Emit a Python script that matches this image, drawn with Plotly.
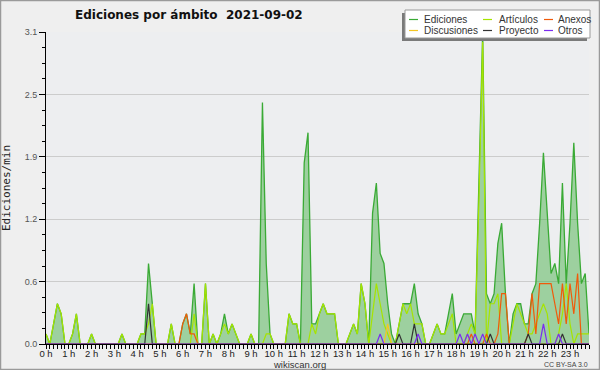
import plotly.graph_objects as go

# ---- data: 10-minute buckets, edits per minute ----
slots = list(range(144))  # 0 .. 143 (10-minute steps)

ediciones = [
    0.1, 0, 0.2, 0.4, 0.3, 0, 0, 0.1, 0.3, 0, 0, 0,
    0.1, 0, 0, 0, 0, 0, 0, 0, 0.1, 0, 0, 0,
    0, 0.1, 0.1, 0.8, 0.4, 0, 0, 0, 0, 0.2, 0, 0,
    0.2, 0.3, 0.1, 0.6, 0, 0, 0.6, 0, 0.1, 0, 0.1, 0.3,
    0.1, 0.2, 0.1, 0, 0, 0, 0.1, 0, 0, 2.4, 0.8, 0.1,
    0, 0, 0, 0, 0.3, 0.2, 0.2, 0, 1.8, 2.1, 0.2, 0.2,
    0.3, 0.4, 0.3, 0.3, 0.3, 0, 0, 0, 0.1, 0.2, 0.1, 0.6,
    0.4, 0, 1.3, 1.6, 0.9, 0.8, 0.4, 0.1, 0, 0.2, 0.4, 0.4,
    0.4, 0.6, 0.3, 0.2, 0, 0, 0.1, 0.2, 0.1, 0.1, 0.3, 0.5,
    0.1, 0.2, 0.3, 0.3, 0.3, 0.1, 1.6, 3.1, 0.5, 0.4, 0.5, 1.0,
    1.2, 0.5, 0, 0.3, 0.4, 0.4, 0.2, 0.2, 0.5, 0.6, 1.2, 1.9,
    1.3, 0.7, 0.8, 0.6, 1.6, 0.6, 1.2, 2.0, 1.2, 0.6, 0.7, 0.1,
]
articulos = [
    0.1, 0, 0.2, 0.4, 0.3, 0, 0, 0.1, 0.3, 0, 0, 0,
    0.1, 0, 0, 0, 0, 0, 0, 0, 0.1, 0, 0, 0,
    0, 0.1, 0.1, 0.2, 0.4, 0, 0, 0, 0, 0.2, 0, 0,
    0, 0, 0, 0.3, 0, 0, 0.6, 0, 0.1, 0, 0.1, 0.2,
    0.1, 0.2, 0.1, 0, 0, 0, 0.1, 0, 0, 0, 0.1, 0.1,
    0, 0, 0, 0, 0.3, 0.2, 0.2, 0, 0, 0, 0.2, 0.1,
    0.3, 0.4, 0.3, 0.3, 0.3, 0, 0, 0, 0.1, 0.2, 0.1, 0.6,
    0.4, 0, 0.3, 0.6, 0.4, 0.2, 0.1, 0, 0, 0.2, 0.4, 0.3,
    0.4, 0.2, 0.2, 0.2, 0, 0, 0.1, 0.2, 0.1, 0.1, 0.2, 0.3,
    0, 0, 0, 0.1, 0.2, 0.1, 1.4, 3.0, 0, 0.4, 0.4, 0.5,
    0, 0, 0, 0.2, 0.4, 0.3, 0.2, 0.1, 0.1, 0.2, 0.3, 0.4,
    0.3, 0, 0, 0.1, 0.3, 0.6, 0.2, 0, 0.1, 0.1, 0.1, 0.1,
]
anexos = [0] * 144
for k, v in {36: 0.2, 37: 0.3, 38: 0.1, 39: 0.1, 112: 0.1, 116: 0.1, 119: 0.1,
             120: 0.5, 121: 0.5, 127: 0.1, 128: 0.5, 129: 0.1, 130: 0.6, 131: 0.6,
             132: 0.6, 133: 0.6, 134: 0.4, 135: 0.2, 136: 0.6, 137: 0.2, 138: 0.6,
             139: 0.3, 140: 0.7}.items():
    anexos[k] = v
discusiones = [0] * 144
discusiones[90] = 0.2
proyecto = [0] * 144
for k, v in {27: 0.4, 93: 0.1, 97: 0.2, 117: 0.1, 127: 0.1, 136: 0.1}.items():
    proyecto[k] = v
otros = [0] * 144
for k, v in {88: 0.1, 98: 0.1, 109: 0.1, 111: 0.1, 113: 0.1, 115: 0.1, 131: 0.2, 135: 0.1}.items():
    otros[k] = v

hour_ticks = list(range(24))
hour_labels = [f"{h} h" for h in hour_ticks]
y_ticks = [0, 0.62, 1.24, 1.86, 2.48, 3.1]
y_labels = ["0.0", "0.6", "1.2", "1.9", "2.5", "3.1"]

series = [
    ("Ediciones", ediciones, "#3aaa35"),
    ("Artículos", articulos, "#a6e400"),
    ("Anexos", anexos, "#f05a0a"),
    ("Discusiones", discusiones, "#f5c623"),
    ("Proyecto", proyecto, "#333333"),
    ("Otros", otros, "#7b2cf0"),
]

x_hours = [s / 6 for s in slots]

# ---- geometry helpers (pixel -> paper) ----
W, H = 600, 370
L, R, T, B = 46, 589, 32, 344
def px(x):
    return (x - L) / (R - L)
def py(y):
    return (B - y) / (B - T)

FONT = "DejaVu Sans"
NARROW = "Liberation Sans"

fig = go.Figure()
for i, (name, vals, col) in enumerate(series):
    if i == 0:
        fig.add_trace(go.Scatter(x=x_hours, y=vals, mode="lines", name=name,
                                 line=dict(color=col, width=1.3),
                                 fill="tozeroy", fillcolor="rgba(60,170,60,0.45)",
                                 showlegend=False, hoverinfo="skip"))
    else:
        fig.add_trace(go.Scatter(x=x_hours, y=vals, mode="lines", name=name,
                                 line=dict(color=col, width=1.2),
                                 showlegend=False, hoverinfo="skip"))

fig.update_layout(
    width=W, height=H,
    margin=dict(l=L, r=W - R, t=T, b=H - B, pad=0, autoexpand=False),
    paper_bgcolor="#efefef",
    plot_bgcolor="#edeef0",
    font=dict(family=FONT, size=10, color="#333333"),
    showlegend=False,
)
fig.update_xaxes(
    range=[0, 143 / 6], showgrid=False, zeroline=False, automargin=False,
    showline=True, linecolor="black", linewidth=1,
    tickmode="array", tickvals=hour_ticks, ticktext=hour_labels, tickangle=0,
    ticks="outside", ticklen=4, tickcolor="black", tickwidth=1,
    ticklabelstandoff=-3,
    tickfont=dict(family=NARROW, size=9.5, color="#222222"),
    minor=dict(tickmode="linear", tick0=0, dtick=1 / 6, ticks="outside",
               ticklen=4, tickcolor="black", tickwidth=1, showgrid=False),
)
fig.update_yaxes(
    range=[0, 3.1], zeroline=False, automargin=False,
    showline=True, linecolor="black", linewidth=1,
    showgrid=True, gridcolor="#cccccc", gridwidth=1,
    tickmode="array", tickvals=y_ticks, ticktext=y_labels,
    ticks="outside", ticklen=6, tickcolor="black", tickwidth=1,
    tickfont=dict(family=NARROW, size=9, color="#555555"),
    minor=dict(tickmode="linear", tick0=0, dtick=0.155, ticks="outside",
               ticklen=3, tickcolor="black", tickwidth=1, showgrid=False),
    title=dict(text="Ediciones/min", font=dict(family="DejaVu Sans Mono", size=11, color="#222222"),
               standoff=14),
)

shapes = []
ann = []
# outer border
shapes.append(dict(type="rect", xref="paper", yref="paper", x0=px(0.5), x1=px(599.5),
                   y0=py(369.5), y1=py(0.5), line=dict(color="#9a9a9a", width=1.5),
                   fillcolor="rgba(0,0,0,0)", layer="above"))
# legend box with shadow
lx0, lx1, ly0, ly1 = 405, 590, 10, 38
shapes.append(dict(type="rect", xref="paper", yref="paper", x0=px(lx0 - 3), x1=px(lx1 - 3),
                   y0=py(ly1 + 3), y1=py(ly0 + 3), line=dict(width=0),
                   fillcolor="#7a7a7a", layer="above"))
shapes.append(dict(type="rect", xref="paper", yref="paper", x0=px(lx0), x1=px(lx1),
                   y0=py(ly1), y1=py(ly0), line=dict(color="#999999", width=1),
                   fillcolor="white", layer="above"))
cols = [(409, 422), (483, 497), (544, 556)]
rows = [19.5, 30.5]
for idx, (name, vals, col) in enumerate(series):
    r, c = divmod(idx, 3)
    lx, tx = cols[c]
    yy = rows[r]
    shapes.append(dict(type="line", xref="paper", yref="paper", x0=px(lx), x1=px(lx + 9),
                       y0=py(yy), y1=py(yy), line=dict(color=col, width=1.2), layer="above"))
    ann.append(dict(text=name, xref="paper", yref="paper", x=px(tx), y=py(yy),
                    xanchor="left", yanchor="middle", showarrow=False,
                    font=dict(family=NARROW, size=10, color="#333333")))

ann.append(dict(text="<b>Ediciones por ámbito\u00a0\u00a02021-09-02</b>", xref="paper", yref="paper",
                x=px(189), y=py(15), xanchor="center", yanchor="middle", showarrow=False,
                font=dict(family=FONT, size=12, color="#111111")))
ann.append(dict(text="wikiscan.org", xref="paper", yref="paper", x=px(299), y=py(364.5),
                xanchor="center", yanchor="middle", showarrow=False,
                font=dict(family=NARROW, size=9.5, color="#333333")))
ann.append(dict(text="CC BY-SA 3.0", xref="paper", yref="paper", x=px(590), y=py(364),
                xanchor="right", yanchor="middle", showarrow=False,
                font=dict(family=NARROW, size=7, color="#444444")))

fig.update_layout(shapes=shapes, annotations=ann)
fig.write_html("out.html", config={"displayModeBar": False},
               post_script="document.body.style.margin='0px';")
